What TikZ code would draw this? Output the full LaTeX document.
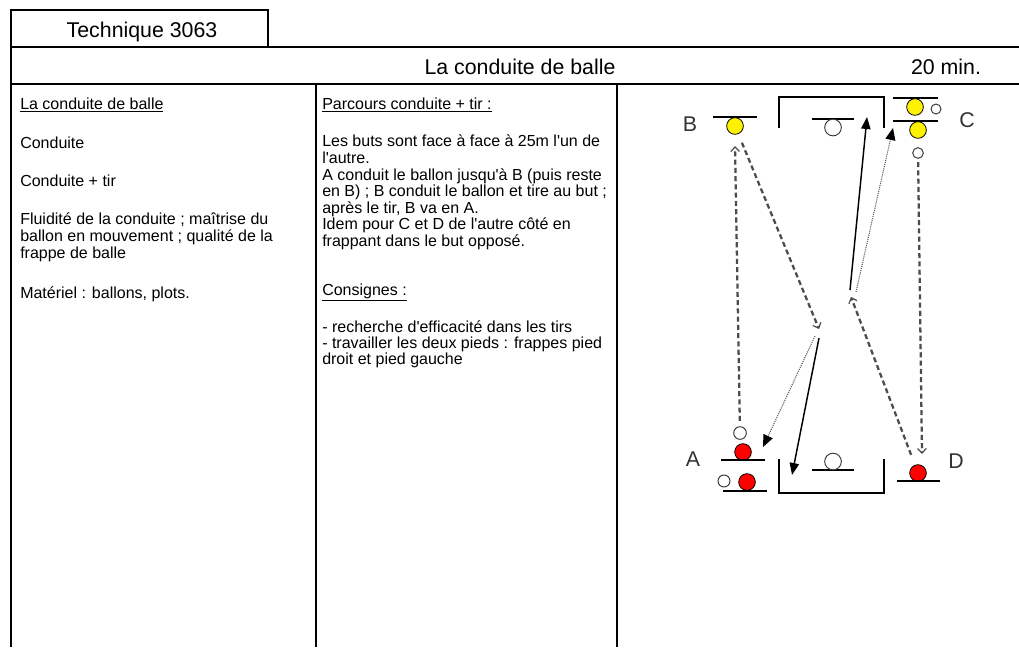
\documentclass[tikz,border=0pt]{standalone}
\usepackage{fontspec}
\setmainfont{Liberation Sans}
\usetikzlibrary{arrows.meta}

\tikzset{
  cadre/.style={line width=1.5pt},
  titre/.style={anchor=base, inner sep=0pt, font=\fontsize{16}{18}\selectfont},
  ligne/.style={anchor=base west, inner sep=0pt, font=\fontsize{12}{13}\selectfont},
  lettre/.style={inner sep=0pt, text=black!80, font=\fontsize{16}{18}\selectfont},
  but/.style={line width=0.8pt},
  jaune/.style={circle, draw, fill=yellow, minimum size=12.5pt, inner sep=0pt, line width=0.6pt},
  rouge/.style={circle, draw, fill=red, minimum size=12.5pt, inner sep=0pt, line width=0.6pt},
  plot/.style={circle, draw=black!80, fill=white, inner sep=0pt, line width=0.7pt},
  conduite/.style={line width=1.1pt, -{Triangle[length=9pt,width=7pt]}},
  passe/.style={draw=black!65, line width=0.8pt, dash pattern=on 0.8pt off 0.8pt,
    -{Triangle[length=9pt,width=7.5pt,color=black]}},
  course/.style={draw=black!70, line width=1.7pt, dash pattern=on 3.8pt off 2.4pt,
    -{Straight Barb[length=3.5pt,width=6.5pt,line width=0.9pt]}},
}

\begin{document}
\begin{tikzpicture}[x=0.75pt,y=-0.75pt]
  \useasboundingbox (0,0) rectangle (1019,647);
  % tableau
  \draw[cadre] (11,647) -- (11,10) -- (268,10) -- (268,47);
  \draw[cadre] (11,47) -- (1019,47);
  \draw[cadre] (11,84) -- (1019,84);
  \draw[cadre] (316,84) -- (316,647);
  \draw[cadre] (617,84) -- (617,647);

  \node[titre] (tech) at (142,37) {Technique 3063};
  \node[titre] (theme) at (520,74) {La conduite de balle};
  \node[titre] (duree) at (946,74) {20 min.};

  % colonne 1
  \node[ligne] (c1a) at (20,109) {\underline{La conduite de balle}};
  \node[ligne] (c1b) at (20,148) {Conduite};
  \node[ligne] (c1c) at (20,186) {Conduite + tir};
  \node[ligne] (c1d) at (20,224) {Fluidité de la conduite ; maîtrise du};
  \node[ligne] (c1e) at (20,241) {ballon en mouvement ; qualité de la};
  \node[ligne] (c1f) at (20,258) {frappe de balle};
  \node[ligne] (c1g) at (20,298) {Matériel : ballons, plots.};

  % colonne 2
  \node[ligne] (c2a) at (322,109) {\underline{Parcours conduite + tir :}};
  \node[ligne] (c2b) at (322,146) {Les buts sont face à face à 25m l\textquotesingle un de};
  \node[ligne] (c2c) at (322,163) {l\textquotesingle autre.};
  \node[ligne] (c2d) at (322,180) {A conduit le ballon jusqu\textquotesingle à B (puis reste};
  \node[ligne] (c2e) at (322,196) {en B) ; B conduit le ballon et tire au but ;};
  \node[ligne] (c2f) at (322,213) {après le tir, B va en A.};
  \node[ligne] (c2g) at (322,229) {Idem pour C et D de l\textquotesingle autre côté en};
  \node[ligne] (c2h) at (322,246) {frappant dans le but opposé.};
  \node[ligne] (c2i) at (322,295) {\underline{Consignes :}};
  \node[ligne] (c2j) at (322,332) {- recherche d\textquotesingle efficacité dans les tirs};
  \node[ligne] (c2k) at (322,348) {- travailler les deux pieds : frappes pied};
  \node[ligne] (c2l) at (322,364) {droit et pied gauche};

  % buts
  \draw[but] (779,128) -- (779,97) -- (884,97) -- (884,128);
  \draw[but] (812,119) -- (854,119);
  \node[plot, minimum size=12.5pt] (gh) at (833,127.5) {};
  \draw[but] (779,459) -- (779,493) -- (884,493) -- (884,459);
  \draw[but] (812,470) -- (854,470);
  \node[plot, minimum size=12.5pt] (gb) at (833,461.5) {};

  % joueurs B
  \draw[but] (713,117) -- (757,117);
  \node[jaune] (b) at (735,126) {};
  \node[lettre] (lb) at (690,124) {B};
  % joueurs C
  \draw[but] (893,98) -- (938,98);
  \node[jaune] (c1) at (915,107) {};
  \node[plot, minimum size=7.5pt] (pc1) at (936,109) {};
  \draw[but] (893,121) -- (938,121);
  \node[jaune] (c2) at (918,130) {};
  \node[plot, minimum size=8pt] (pc2) at (918,153) {};
  \node[lettre] (lc) at (967,120) {C};
  % joueurs A
  \node[plot, minimum size=9.5pt] (pa1) at (740,433) {};
  \node[rouge] (a1) at (743,452) {};
  \draw[but] (721,460) -- (765,460);
  \node[plot, minimum size=9pt] (pa2) at (724,481) {};
  \node[rouge] (a2) at (747,482) {};
  \draw[but] (723,491) -- (767,491);
  \node[lettre] (la) at (693,459) {A};
  % joueur D
  \node[rouge] (d) at (918,473) {};
  \draw[but] (897,481) -- (940,481);
  \node[lettre] (ld) at (956,461) {D};

  % points du parcours
  \coordinate (xb) at (819,329);
  \coordinate (xd) at (851,297);
  \coordinate (tb) at (735,146);
  \coordinate (td) at (922,454);
  \coordinate (hs) at (850,290);
  \coordinate (hb) at (867,117);
  \coordinate (hp) at (856,292);
  \coordinate (hc) at (893,128);
  \coordinate (bs) at (819,338);
  \coordinate (bb) at (792,475);
  \coordinate (bp) at (815,336);
  \coordinate (ba) at (763,447);

  \draw[course, shorten <=4pt] (pa1) -- (tb);
  \draw[course, shorten <=2.5pt] (pc2) -- (td);
  \draw[course, shorten <=7pt] (b) -- (xb);
  \draw[course, shorten <=8pt] (d) -- (xd);
  \draw[conduite] (hs) -- (hb);
  \draw[passe] (hp) -- (hc);
  \draw[conduite] (bs) -- (bb);
  \draw[passe] (bp) -- (ba);
\end{tikzpicture}
\end{document}
